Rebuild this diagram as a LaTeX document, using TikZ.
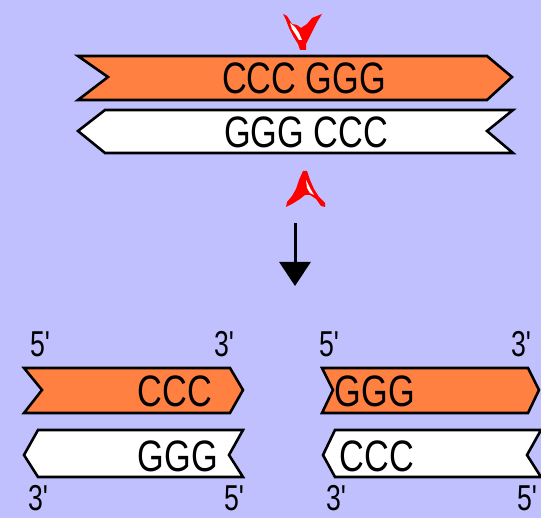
\documentclass[tikz,border=0pt]{standalone}
\usepackage{fontspec}
\setmainfont{Liberation Sans}
\usetikzlibrary{arrows.meta}
\definecolor{bg}{RGB}{192,192,255}
\definecolor{dnaorange}{RGB}{255,128,64}
\definecolor{mkred}{RGB}{255,0,0}
\newcommand{\pr}{\textquotesingle}
\begin{document}
\begin{tikzpicture}[x=1pt,y=-1pt,
  strand/.style={draw=black,line width=2.6pt,line join=miter},
  ostrand/.style={strand,fill=dnaorange},
  wstrand/.style={strand,fill=white},
  base/.style={font=\fontsize{44}{44}\selectfont,xscale=0.78,inner sep=0pt},
  endlabel/.style={font=\fontsize{36}{36}\selectfont,xscale=0.74,inner sep=0pt},
  marker/.style={fill=mkred,draw=none},
  hilite/.style={fill=white,draw=none}]
\fill[bg] (0,0) rectangle (541,518);
\useasboundingbox (0,0) rectangle (541,518);

% top markers
\path[marker] (283,14) -- (287,16) -- (292,24) -- (297,25) -- (301,28) -- (307,24) -- (312,18) -- (322,14) -- (317,22) -- (313,30) -- (309,38) -- (306,44) -- (306,50) -- (300,50) -- (298,44) -- (293,36) -- (289,28) -- (286,20) -- cycle;
\path[hilite] (290,23) -- (295,27) -- (299,33) -- (302,40) -- (299,40) -- (296,35) -- (292,29) -- cycle;

% top duplex
\draw[ostrand] (78,56) -- (487,56) -- (512,77) -- (487,100) -- (78,100) -- (108,77) -- cycle;
\draw[wstrand] (105,110) -- (513,110) -- (487,131) -- (513,153) -- (105,153) -- (78,131) -- cycle;
\node[base] (topA) at (304,78) {CCC GGG};
\node[base] (topB) at (306,132) {GGG CCC};

% bottom marker
\path[marker] (303,171) -- (307,171) -- (310,180) -- (314,189) -- (319,197) -- (325,203) -- (325,207) -- (321,206) -- (316,199) -- (310,195) -- (305,195) -- (300,199) -- (292,204) -- (286,207) -- (287,202) -- (292,196) -- (296,189) -- (299,180) -- cycle;
\path[hilite] (306,180) -- (310,188) -- (314,195) -- (310,193) -- (307,188) -- cycle;

% arrow
\coordinate (arrS) at (295,223);
\coordinate (arrE) at (295,286);
\draw[line width=3pt,-{Triangle[width=31pt,length=24pt]}] (arrS) -- (arrE);

% bottom left pieces
\draw[ostrand] (24,368) -- (230,368) -- (243,390) -- (230,413) -- (24,413) -- (42,390) -- cycle;
\draw[wstrand] (38,430) -- (243,430) -- (229,455) -- (243,477) -- (38,477) -- (24,455) -- cycle;
\node[base] (blA) at (175,391) {CCC};
\node[base] (blB) at (178,456) {GGG};
\node[endlabel,anchor=base] (l5a) at (40,357) {5\pr};
\node[endlabel,anchor=base] (l3a) at (224,357) {3\pr};
\node[endlabel,anchor=base] (l3b) at (38,511) {3\pr};
\node[endlabel,anchor=base] (l5b) at (234,511) {5\pr};

% bottom right pieces
\draw[ostrand] (322,368) -- (528,368) -- (539,390) -- (528,413) -- (322,413) -- (333,390) -- cycle;
\draw[wstrand] (335,430) -- (541,430) -- (527,455) -- (541,477) -- (335,477) -- (323,455) -- cycle;
\node[base] (brA) at (375,391) {GGG};
\node[base] (brB) at (377,456) {CCC};
\node[endlabel,anchor=base] (r5a) at (329,357) {5\pr};
\node[endlabel,anchor=base] (r3a) at (521,357) {3\pr};
\node[endlabel,anchor=base] (r3b) at (336,511) {3\pr};
\node[endlabel,anchor=base] (r5b) at (527,511) {5\pr};
\end{tikzpicture}
\end{document}
